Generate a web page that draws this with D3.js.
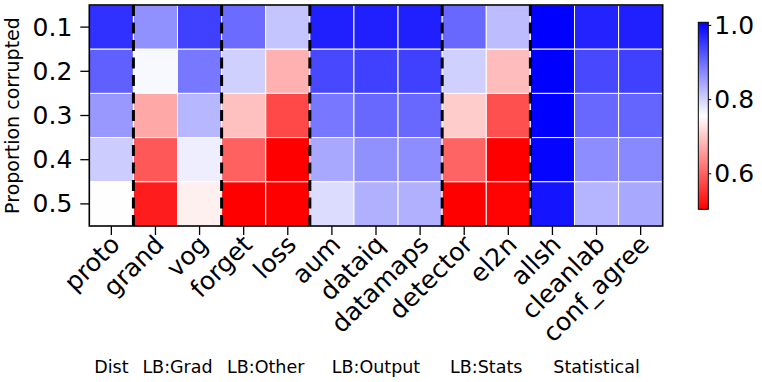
<!DOCTYPE html>
<html>
<head>
<meta charset="utf-8">
<script src="https://cdn.jsdelivr.net/npm/d3@7.9.0/dist/d3.min.js"></script>
<style>
  body { margin: 0; background: #fff; }
  svg { display: block; }
  svg text { font-family: "DejaVu Sans", sans-serif; }
</style>
</head>
<body>
<svg id="chart" width="762" height="382"></svg>
<script>
// --- data ---
const rates = ["0.1", "0.2", "0.3", "0.4", "0.5"];
const methods = ["proto", "grand", "vog", "forget", "loss", "aum", "dataiq",
  "datamaps", "detector", "el2n", "allsh", "cleanlab", "conf_agree"];
const methodGroup = ["Dist", "LB:Grad", "LB:Grad", "LB:Other", "LB:Other",
  "LB:Output", "LB:Output", "LB:Output", "LB:Stats", "LB:Stats",
  "Statistical", "Statistical", "Statistical"];
const groups = ["Dist", "LB:Grad", "LB:Other", "LB:Output", "LB:Stats", "Statistical"];

// one row per corruption rate, one value per method
const row01 = [0.959, 0.865, 0.944, 0.901, 0.813, 0.975, 0.975, 0.975, 0.904, 0.821, 1.007, 0.972, 0.975];
const row02 = [0.912, 0.762, 0.889, 0.801, 0.677, 0.936, 0.944, 0.944, 0.801, 0.689, 1.007, 0.936, 0.944];
const row03 = [0.857, 0.669, 0.826, 0.693, 0.574, 0.889, 0.904, 0.904, 0.705, 0.582, 1.007, 0.904, 0.908];
const row04 = [0.805, 0.590, 0.772, 0.598, 0.500, 0.841, 0.865, 0.868, 0.602, 0.500, 1.003, 0.868, 0.873];
const row05 = [0.756, 0.531, 0.740, 0.500, 0.500, 0.790, 0.833, 0.833, 0.500, 0.505, 0.987, 0.829, 0.841];
const rows = [row01, row02, row03, row04, row05];

const colorTicks = [0.6, 0.8, 1.0];
const vmin = 0.503, vmax = 1.007;

// --- layout ---
const svg = d3.select("#chart");
const plot = { left: 89.3, right: 662.7, top: 5, bottom: 226 };
const cbar = { left: 698.3, right: 708.3, top: 22.3, bottom: 209.3 };
const FONT = "DejaVu Sans";
const TICK_FS = 25;

const x = d3.scaleBand().domain(methods).range([plot.left, plot.right]);
const y = d3.scaleBand().domain(rates).range([plot.top, plot.bottom]);

// bwr reversed: low -> red, mid -> white, high -> blue
const color = d3.scaleLinear()
  .domain([vmin, (vmin + vmax) / 2, vmax])
  .range(["#ff0000", "#ffffff", "#0000ff"])
  .clamp(true);

const cells = [];
rows.forEach((r, i) => r.forEach((v, j) => cells.push({ rate: rates[i], method: methods[j], value: v })));

svg.append("g")
  .selectAll("rect")
  .data(cells)
  .join("rect")
  .attr("x", d => x(d.method))
  .attr("y", d => y(d.rate))
  .attr("width", x.bandwidth())
  .attr("height", y.bandwidth())
  .attr("fill", d => color(d.value))
  .attr("stroke", "#fff")
  .attr("stroke-width", 1);

// dashed separators between method groups
const splits = methods.filter((m, i) => i > 0 && methodGroup[i] !== methodGroup[i - 1]);
svg.append("g")
  .selectAll("line")
  .data(splits)
  .join("line")
  .attr("x1", d => x(d)).attr("x2", d => x(d))
  .attr("y1", plot.top).attr("y2", plot.bottom)
  .attr("stroke", "#000")
  .attr("stroke-width", 3)
  .attr("stroke-dasharray", "11,6.5");

// frame
svg.append("rect")
  .attr("x", plot.left).attr("y", plot.top)
  .attr("width", plot.right - plot.left).attr("height", plot.bottom - plot.top)
  .attr("fill", "none").attr("stroke", "#000").attr("stroke-width", 1.6);

// y axis
const yAxis = svg.append("g")
  .attr("transform", `translate(${plot.left},0)`)
  .call(d3.axisLeft(y).tickSize(9).tickPadding(8))
  .attr("font-family", FONT);
yAxis.select(".domain").remove();
yAxis.selectAll("line").attr("stroke", "#000").attr("stroke-width", 1.3);
yAxis.selectAll("text")
  .attr("font-size", TICK_FS).attr("fill", "#000")
  .attr("dy", null).attr("dominant-baseline", "central");

// x axis with rotated labels
const xAxis = svg.append("g")
  .attr("transform", `translate(0,${plot.bottom})`)
  .call(d3.axisBottom(x).tickSize(9))
  .attr("font-family", FONT);
xAxis.select(".domain").remove();
xAxis.selectAll("line").attr("stroke", "#000").attr("stroke-width", 1.3);
xAxis.selectAll("text")
  .attr("font-size", TICK_FS).attr("fill", "#000")
  .attr("y", 0).attr("dy", null)
  .attr("text-anchor", "end")
  .attr("dominant-baseline", "central")
  .attr("transform", "translate(4,14) rotate(-45)");

// y label
svg.append("text")
  .attr("transform", `translate(12,${(plot.top + plot.bottom) / 2}) rotate(-90)`)
  .attr("text-anchor", "middle")
  .attr("dominant-baseline", "central")
  .attr("font-size", 19)
  .text("Proportion corrupted");

// group labels under the chart
svg.append("g")
  .selectAll("text")
  .data(groups)
  .join("text")
  .attr("x", g => {
    const idx = methods.filter((m, i) => methodGroup[i] === g);
    return (x(idx[0]) + x(idx[idx.length - 1]) + x.bandwidth()) / 2;
  })
  .attr("y", 372.5)
  .attr("text-anchor", "middle")
  .attr("font-size", 17.5)
  .text(g => g);

// colorbar
const defs = svg.append("defs");
const grad = defs.append("linearGradient")
  .attr("id", "cbar-grad")
  .attr("x1", 0).attr("x2", 0).attr("y1", 1).attr("y2", 0);
d3.range(0, 1.0001, 0.05).forEach(t => {
  grad.append("stop")
    .attr("offset", t)
    .attr("stop-color", color(vmin + t * (vmax - vmin)));
});

svg.append("rect")
  .attr("x", cbar.left).attr("y", cbar.top)
  .attr("width", cbar.right - cbar.left).attr("height", cbar.bottom - cbar.top)
  .attr("fill", "url(#cbar-grad)")
  .attr("stroke", "#000").attr("stroke-width", 1);

const cy = d3.scaleLinear().domain([vmin, vmax]).range([cbar.bottom, cbar.top]);
const cAxis = svg.append("g")
  .attr("transform", `translate(${cbar.right},0)`)
  .call(d3.axisRight(cy).tickValues(colorTicks).tickFormat(d3.format(".1f")).tickSize(3).tickPadding(3))
  .attr("font-family", FONT);
cAxis.select(".domain").remove();
cAxis.selectAll("line").attr("stroke", "#000");
cAxis.selectAll("text")
  .attr("font-size", TICK_FS).attr("fill", "#000")
  .attr("dy", null).attr("dominant-baseline", "central");
</script>
</body>
</html>
